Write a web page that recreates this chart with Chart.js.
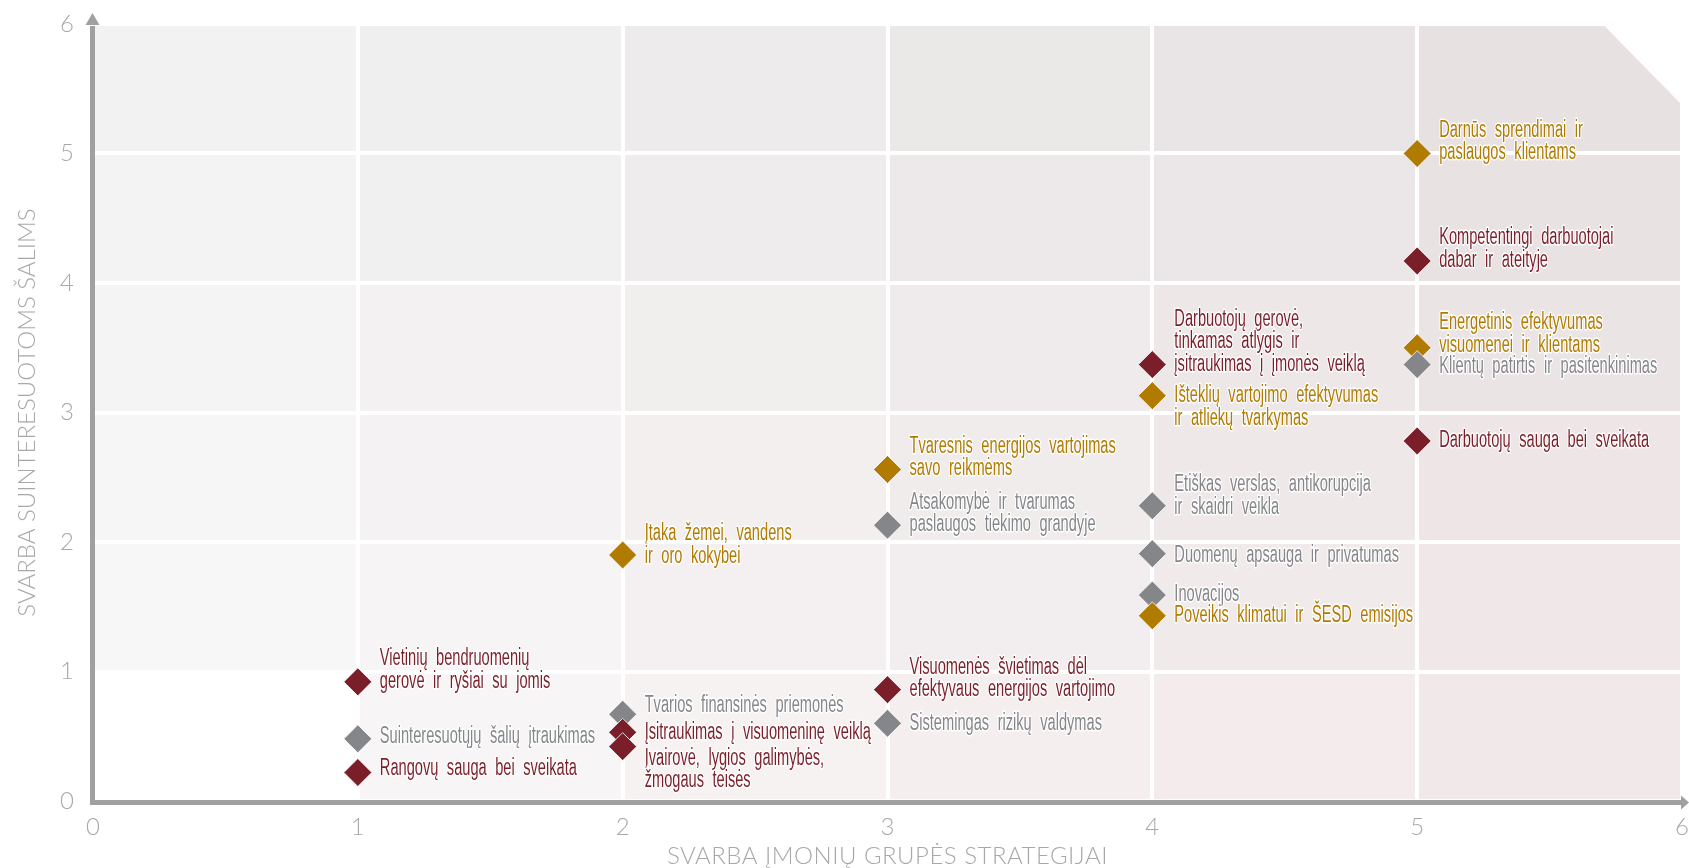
<!DOCTYPE html>
<html>
<head>
<meta charset="utf-8">
<script src="https://cdn.jsdelivr.net/npm/chart.js@4"></script>
<style>
  html, body { margin: 0; padding: 0; background: #fff; }
  #wrap { width: 1689px; height: 868px; }
</style>
</head>
<body>
<div id="wrap"><canvas id="chart" width="1689" height="868"></canvas></div>
<script>
// ====== DATA ======
const topics = [
  'Darnūs sprendimai ir\npaslaugos klientams',
  'Energetinis efektyvumas\nvisuomenei ir klientams',
  'Išteklių vartojimo efektyvumas\nir atliekų tvarkymas',
  'Tvaresnis energijos vartojimas\nsavo reikmėms',
  'Įtaka žemei, vandens\nir oro kokybei',
  'Poveikis klimatui ir ŠESD emisijos',
  'Kompetentingi darbuotojai\ndabar ir ateityje',
  'Darbuotojų gerovė,\ntinkamas atlygis ir\nįsitraukimas į įmonės veiklą',
  'Darbuotojų sauga bei sveikata',
  'Visuomenės švietimas dėl\nefektyvaus energijos vartojimo',
  'Vietinių bendruomenių\ngerovė ir ryšiai su jomis',
  'Rangovų sauga bei sveikata',
  'Įsitraukimas į visuomeninę veiklą',
  'Įvairovė, lygios galimybės,\nžmogaus teisės',
  'Klientų patirtis ir pasitenkinimas',
  'Etiškas verslas, antikorupcija\nir skaidri veikla',
  'Atsakomybė ir tvarumas\npaslaugos tiekimo grandyje',
  'Duomenų apsauga ir privatumas',
  'Inovacijos',
  'Tvarios finansinės priemonės',
  'Sistemingas rizikų valdymas',
  'Suinteresuotųjų šalių įtraukimas'
];
// svarba įmonių grupės strategijai (x)
const strategyScore = [5, 5, 4, 3, 2, 4, 5, 4, 5, 3, 1, 1, 2, 2, 5, 4, 3, 4, 4, 2, 3, 1];
// svarba suinteresuotoms šalims (y)
const stakeholderScore = [5.0, 3.5, 3.13, 2.56, 1.9, 1.43, 4.17, 3.37, 2.78, 0.86, 0.92, 0.22, 0.53, 0.42,
                          3.37, 2.28, 2.13, 1.91, 1.59, 0.67, 0.6, 0.48];
const topicGroup = ['env', 'env', 'env', 'env', 'env', 'env',
                    'soc', 'soc', 'soc', 'soc', 'soc', 'soc', 'soc', 'soc',
                    'gov', 'gov', 'gov', 'gov', 'gov', 'gov', 'gov', 'gov'];
const xTicks = [0, 1, 2, 3, 4, 5, 6];
const yTicks = [0, 1, 2, 3, 4, 5, 6];
const xTitle = 'SVARBA ĮMONIŲ GRUPĖS STRATEGIJAI';
const yTitle = 'SVARBA SUINTERESUOTOMS ŠALIMS';
// ==================

// layout: vertical shift (px) of the first label line against its marker
const labelShift = [-23, -25, 0, -23, -21, 0, -23, -45, 0, -22, -23, -4, 0, 12,
                    2, -21, -23, 2, 0, -9, 0, -2];

const groupColor = { env: '#b07b00', soc: '#7a1f29', gov: '#85868a' };
const axisColor = '#a0a0a0';
const tickColor = '#a8a8a8';
const labelFont = '23px "Liberation Sans", Arial, sans-serif';
const lineGap = 22.5;

// draw lower markers last (they sit on top in the original)
const order = topics.map((_, i) => i).sort((a, b) => stakeholderScore[b] - stakeholderScore[a]);

// cell shading: bilinear between corners (bottom-left, bottom-right, top-left, top-right)
const shadeBL = [249, 248, 248], shadeBR = [241, 232, 233], shadeTL = [242, 242, 242], shadeTR = [231, 225, 226];
function cellColor(i, j){
  if (i === 0 && j === 0) return '#ffffff';
  const u = i / 5, v = j / 5;
  const c = [0, 1, 2].map(k => {
    const bottom = shadeBL[k] + (shadeBR[k] - shadeBL[k]) * u;
    const top = shadeTL[k] + (shadeTR[k] - shadeTL[k]) * u;
    return Math.round(bottom + (top - bottom) * v);
  });
  return `rgb(${c[0]},${c[1]},${c[2]})`;
}

const backgroundPlugin = {
  id: 'cells',
  beforeDraw(chart){
    const { ctx, scales: { x, y } } = chart;
    ctx.save();
    // plot area with the top-right corner cut off
    ctx.beginPath();
    ctx.moveTo(x.getPixelForValue(0), y.getPixelForValue(0));
    ctx.lineTo(x.getPixelForValue(0), y.getPixelForValue(6));
    ctx.lineTo(x.getPixelForValue(5.7), y.getPixelForValue(6));
    ctx.lineTo(x.getPixelForValue(6), y.getPixelForValue(5.375));
    ctx.lineTo(x.getPixelForValue(6), y.getPixelForValue(0));
    ctx.closePath();
    ctx.clip();
    for (let i = 0; i < 6; i++){
      for (let j = 0; j < 6; j++){
        const x0 = x.getPixelForValue(i), x1 = x.getPixelForValue(i + 1);
        const y0 = y.getPixelForValue(j + 1), y1 = y.getPixelForValue(j);
        ctx.fillStyle = cellColor(i, j);
        ctx.fillRect(x0, y0, x1 - x0, y1 - y0);
      }
    }
    ctx.restore();
  }
};

const axesPlugin = {
  id: 'arrowAxes',
  beforeDatasetsDraw(chart){
    const { ctx, scales: { x, y } } = chart;
    const ox = x.getPixelForValue(0) - 0.5, oy = y.getPixelForValue(0) + 1.5;
    const top = y.getPixelForValue(6), right = x.getPixelForValue(6);
    ctx.save();
    ctx.strokeStyle = axisColor;
    ctx.fillStyle = axisColor;
    ctx.lineWidth = 5;
    ctx.beginPath();
    ctx.moveTo(ox, oy + 2.5); ctx.lineTo(ox, top + 2);
    ctx.moveTo(ox - 2.5, oy); ctx.lineTo(right, oy);
    ctx.stroke();
    // arrow heads
    ctx.beginPath();
    ctx.moveTo(ox, top - 11); ctx.lineTo(ox + 7, top + 1); ctx.lineTo(ox - 7, top + 1); ctx.closePath();
    ctx.moveTo(right + 7, oy); ctx.lineTo(right - 1, oy - 7); ctx.lineTo(right - 1, oy + 7); ctx.closePath();
    ctx.fill();

    // axis titles
    ctx.font = '300 24px Lato, "Open Sans", sans-serif';
    ctx.fillStyle = tickColor;
    ctx.textAlign = 'center';
    ctx.textBaseline = 'middle';
    ctx.letterSpacing = '0.5px';
    ctx.fillText(xTitle, (x.left + x.right) / 2, 856);
    ctx.letterSpacing = '0px';
    ctx.translate(27, (y.top + y.bottom) / 2);
    ctx.rotate(-Math.PI / 2);
    ctx.fillText(yTitle, 0, 0);
    ctx.restore();
  }
};

const labelPlugin = {
  id: 'topicLabels',
  afterDatasetsDraw(chart){
    const { ctx } = chart;
    const meta = chart.getDatasetMeta(0);
    ctx.save();
    ctx.font = labelFont;
    ctx.wordSpacing = '7px';
    ctx.textAlign = 'left';
    ctx.textBaseline = 'middle';
    ctx.lineJoin = 'round';
    // the original uses a condensed face: squeeze horizontally to its width
    const sx = 210 / ctx.measureText('Darbuotojų sauga bei sveikata').width;
    meta.data.forEach((pt, k) => {
      const idx = order[k];
      const lines = topics[idx].split('\n');
      lines.forEach((line, li) => {
        ctx.save();
        ctx.translate(pt.x + 22, pt.y + labelShift[idx] + li * lineGap);
        ctx.scale(sx, 1);
        ctx.strokeStyle = '#ffffff';
        ctx.lineWidth = 3;
        ctx.strokeText(line, 0, 0);
        ctx.fillStyle = groupColor[topicGroup[idx]];
        ctx.fillText(line, 0, 0);
        ctx.restore();
      });
    });
    ctx.restore();
  }
};

new Chart(document.getElementById('chart'), {
  type: 'scatter',
  data: {
    datasets: [{
      label: 'Temos',
      data: order.map(i => ({ x: strategyScore[i], y: stakeholderScore[i] })),
      pointStyle: 'rectRot',
      pointRadius: 14,
      pointHoverRadius: 14,
      pointBackgroundColor: order.map(i => groupColor[topicGroup[i]]),
      pointBorderColor: 'rgba(255,255,255,0.8)',
      pointBorderWidth: 1
    }]
  },
  options: {
    responsive: false,
    animation: false,
    devicePixelRatio: 1,
    layout: { autoPadding: false, padding: { top: 24, right: 7, left: 0, bottom: 0 } },
    plugins: { legend: { display: false }, tooltip: { enabled: false } },
    scales: {
      x: {
        type: 'linear', min: 0, max: 6,
        afterBuildTicks: s => { s.ticks = xTicks.map(v => ({ value: v })); },
        afterFit: s => { s.height = 67; s.paddingLeft = 0; s.paddingRight = 0; },
        border: { display: false },
        grid: { color: '#ffffff', lineWidth: 4, drawTicks: false },
        ticks: { color: tickColor, padding: 12, font: { family: 'Lato, "Open Sans", sans-serif', size: 24, weight: '300' } }
      },
      y: {
        type: 'linear', min: 0, max: 6,
        afterBuildTicks: s => { s.ticks = yTicks.map(v => ({ value: v })); },
        afterFit: s => { s.width = 93; s.paddingTop = 0; s.paddingBottom = 0; },
        border: { display: false },
        grid: { color: '#ffffff', lineWidth: 4, drawTicks: false },
        ticks: { color: tickColor, padding: 19, font: { family: 'Lato, "Open Sans", sans-serif', size: 24, weight: '300' } }
      }
    }
  },
  plugins: [backgroundPlugin, axesPlugin, labelPlugin]
});
</script>
</body>
</html>
